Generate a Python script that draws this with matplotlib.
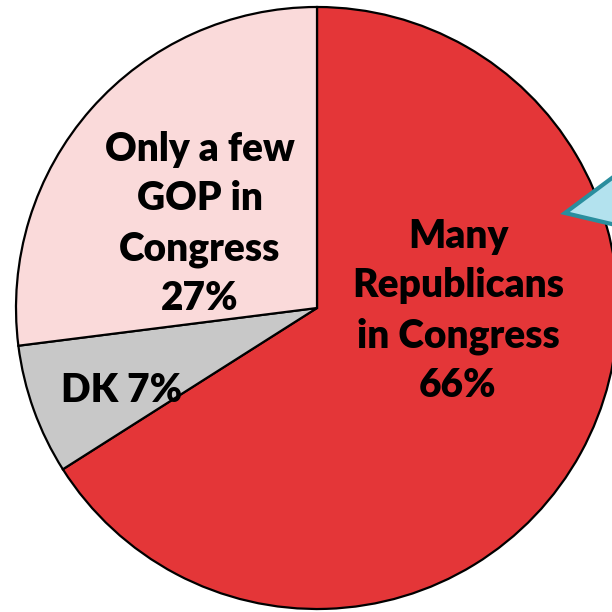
import matplotlib.pyplot as plt
from matplotlib.patches import Polygon

labels = ["Many\nRepublicans\nin Congress\n66%", "DK 7%", "Only a few\nGOP in\nCongress\n27%"]
values = [66, 7, 27]
colors = ["#E43638", "#C8C8C8", "#FADADA"]

H = 612
fig = plt.figure(figsize=(6.12, 6.12), dpi=100)
ax = fig.add_axes([0, 0, 1, 1])

# pie centre/radius in pixels (y flipped)
cx, cy, r = 317, H - 308, 301
ax.pie(values, colors=colors, startangle=90, counterclock=False,
       center=(cx, cy), radius=r, frame=True,
       wedgeprops=dict(edgecolor="black", linewidth=1.6))
ax.set_xlim(0, H)
ax.set_ylim(0, H)
ax.set_aspect("equal")
ax.axis("off")

font = dict(family=["Lato", "DejaVu Sans"], fontweight="heavy", fontsize=28,
            ha="center", va="center", color="black", linespacing=1.42)
ax.text(458, H - 311, labels[0], **font)
ax.text(122, H - 390, labels[1], **font)
ax.text(200, H - 224, labels[2], **font)

# callout pointer coming in from the right edge
ax.add_patch(Polygon([(565, H - 213), (620, H - 172), (620, H - 226)], closed=True,
                     facecolor="#B3E2EE", edgecolor="#2A8E9E", linewidth=3, clip_on=False))

fig.savefig("out.png", dpi=100)
